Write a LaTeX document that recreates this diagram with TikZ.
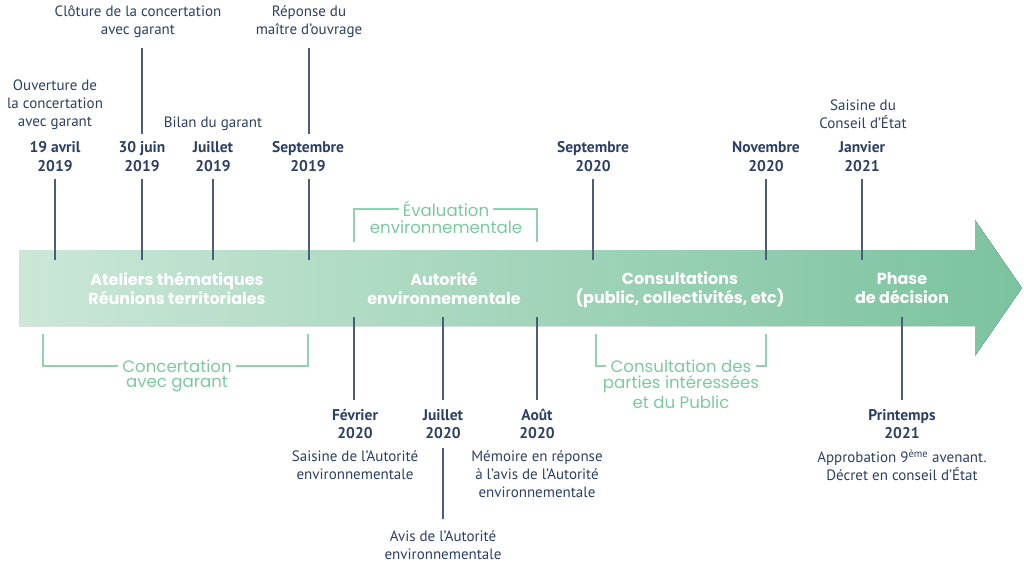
\documentclass[tikz,border=0pt]{standalone}
\usepackage{fontspec}
\setmainfont{PT Sans}
\newfontfamily\popfont{Poppins}
\definecolor{navy}{HTML}{2D3F63}
\definecolor{tickc}{HTML}{4D5B7C}
\definecolor{greentxt}{HTML}{7CC9A0}
\definecolor{greenln}{HTML}{8FD3AE}
\definecolor{arrL}{HTML}{CBE7D8}
\definecolor{arrR}{HTML}{7BC39E}
\tikzset{
  dk/.style={font=\fontsize{15}{18}\selectfont, text=navy, align=center, inner sep=0pt},
  dkb/.style={dk, font=\fontsize{15.5}{18.5}\selectfont\bfseries},
  gr/.style={font=\popfont\fontsize{16.6}{18}\selectfont, text=greentxt, align=center, inner sep=0pt},
  wh/.style={font=\popfont\bfseries\fontsize{16}{19}\selectfont, text=white, align=center, inner sep=0pt},
  tick/.style={draw=tickc, line width=1.3pt},
  brk/.style={draw=greenln, line width=1.2pt},
}
\begin{document}
\begin{tikzpicture}[x=1pt,y=-1pt]
\useasboundingbox (0,0) rectangle (1024,567);
% arrow
\fill[left color=arrL, right color=arrR] (19,250) -- (975,250) -- (975,220) -- (1022,288) -- (975,356) -- (975,326) -- (19,326) -- cycle;

% arrow labels
\node[wh] (a1) at (177,288.5) {Ateliers thématiques\\Réunions territoriales};
\node[wh] (a2) at (444,288.5) {Autorité\\environnementale};
\node[wh] (a3) at (680,289.5) {Consultations\\(public, collectivités, etc)};
\node[wh] (a4) at (902,288.5) {Phase\\de décision};

% top descriptions
\node[dk] (o1) at (55,105) {Ouverture de\\la concertation\\avec garant};
\node[dk] (o2) at (138,22) {Clôture de la concertation\\avec garant};
\node[dk] (o3) at (213,124) {Bilan du garant};
\node[dk] (o4) at (309,22) {Réponse du\\maître d’ouvrage};
\node[dk] (o5) at (863,114) {Saisine du\\Conseil d’État};

% top dates
\node[dkb] (d1) at (55,156.5) {19 avril\\2019};
\node[dkb] (d2) at (142,156.5) {30 juin\\2019};
\node[dkb] (d3) at (213,156.5) {Juillet\\2019};
\node[dkb] (d4) at (308,156.5) {Septembre\\2019};
\node[dkb] (d5) at (593,156.5) {Septembre\\2020};
\node[dkb] (d6) at (766,156.5) {Novembre\\2020};
\node[dkb] (d7) at (862,156.5) {Janvier\\2021};

% bottom dates
\node[dkb] (b1) at (355,424) {Février\\2020};
\node[dkb] (b2) at (443,424) {Juillet\\2020};
\node[dkb] (b3) at (537,424) {Août\\2020};
\node[dkb] (b4) at (902,424) {Printemps\\2021};

% bottom descriptions
\node[dk] (s1) at (355,465) {Saisine de l’Autorité\\environnementale};
\node[dk] (s2) at (537,474) {Mémoire en réponse\\à l’avis de l’Autorité\\environnementale};
\node[dk] (s3) at (443,545) {Avis de l’Autorité\\environnementale};
\node[dk] (s4) at (902,465) {Approbation 9\textsuperscript{ème} avenant.\\Décret en conseil d’État};

% coordinates on arrow
\coordinate (t1) at (55,260);
\coordinate (t2) at (142,260);
\coordinate (t3) at (213,260);
\coordinate (t4) at (309,260);
\coordinate (t5) at (593,260);
\coordinate (t6) at (766,260);
\coordinate (t7) at (862,260);
\coordinate (u1) at (354,317);
\coordinate (u2) at (443,317);
\coordinate (u3) at (537,317);
\coordinate (u4) at (902,317);

% ticks top
\draw[tick, shorten <=7pt] (d1.south -| t1) -- (t1);
\draw[tick, shorten <=7pt] (d2.south -| t2) -- (t2);
\draw[tick, shorten <=7pt] (d3.south -| t3) -- (t3);
\draw[tick, shorten <=7pt] (d4.south -| t4) -- (t4);
\draw[tick, shorten <=7pt] (d5.south -| t5) -- (t5);
\draw[tick, shorten <=7pt] (d6.south -| t6) -- (t6);
\draw[tick, shorten <=7pt] (d7.south -| t7) -- (t7);
\draw[tick, shorten <=10pt, shorten >=7pt] (o2.south -| t2) -- (d2.north -| t2);
\draw[tick, shorten <=10pt, shorten >=7pt] (o4.south -| t4) -- (d4.north -| t4);
% ticks bottom
\draw[tick, shorten >=9pt] (u1) -- (b1.north -| u1);
\draw[tick, shorten >=9pt] (u2) -- (b2.north -| u2);
\draw[tick, shorten >=9pt] (u3) -- (b3.north -| u3);
\draw[tick, shorten >=9pt] (u4) -- (b4.north -| u4);
\draw[tick, shorten <=9pt, shorten >=11pt] (b2.south -| u2) -- (s3.north -| u2);

% green brackets
\node[gr, inner xsep=4pt] (e1) at (446,209) {Évaluation};
\node[gr] (e2) at (446,227) {environnementale};
\coordinate (e1l) at (354,242);
\coordinate (e1r) at (537,242);
\draw[brk] (e1l) |- (e1.west);
\draw[brk] (e1r) |- (e1.east);

\node[gr, inner xsep=4pt] (c1) at (177,366) {Concertation};
\node[gr] (c2) at (177,384) {avec garant};
\coordinate (c1l) at (43,334);
\coordinate (c1r) at (308,334);
\draw[brk] (c1l) |- (c1.west);
\draw[brk] (c1r) |- (c1.east);

\node[gr, inner xsep=4pt] (k1) at (681,366) {Consultation des};
\node[gr] (k2) at (681,384) {parties intéressées};
\node[gr] (k3) at (681,402) {et du Public};
\coordinate (k1l) at (596,334);
\coordinate (k1r) at (766,334);
\draw[brk] (k1l) |- (k1.west);
\draw[brk] (k1r) |- (k1.east);
\end{tikzpicture}
\end{document}
